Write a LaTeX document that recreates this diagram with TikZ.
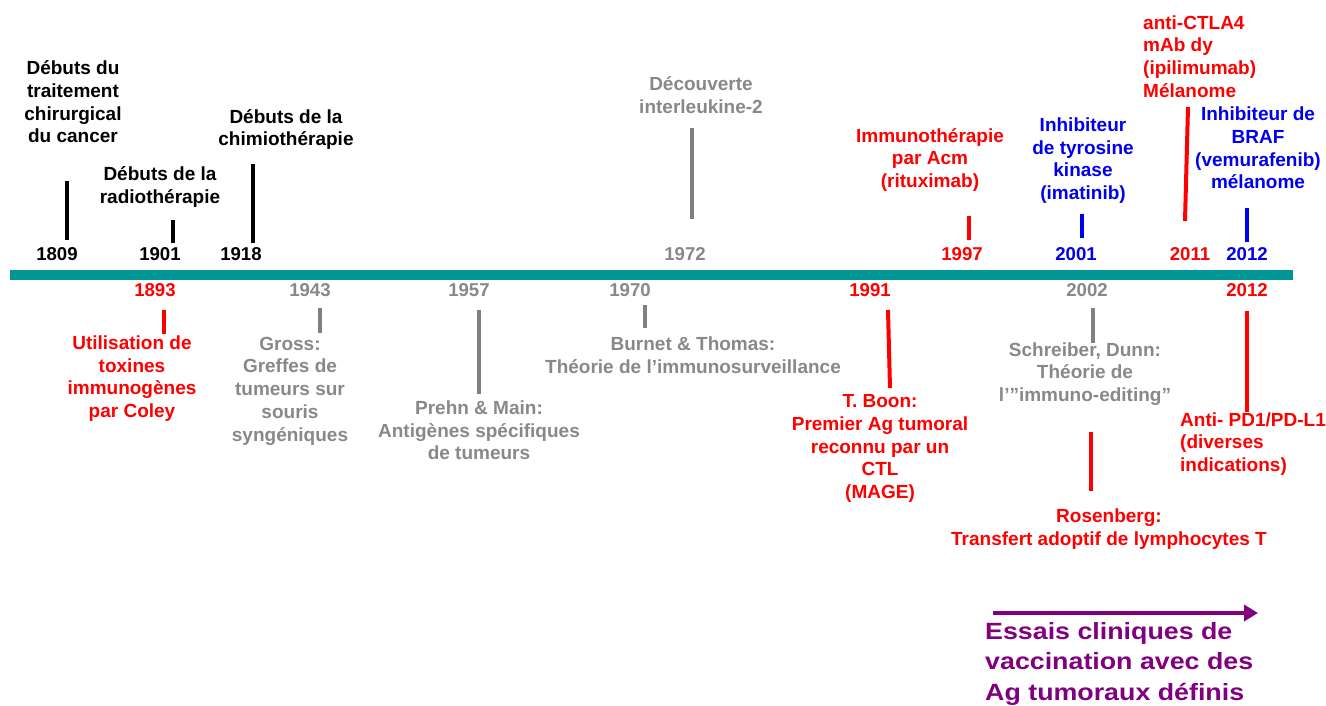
\documentclass[tikz,border=0pt]{standalone}
\usepackage{fontspec}
\setmainfont{Liberation Sans}
\newfontfamily\wideFont[FakeStretch=1.14]{Liberation Sans}
\usetikzlibrary{arrows.meta}
\definecolor{tealbar}{RGB}{0,150,150}
\definecolor{myred}{RGB}{255,0,0}
\definecolor{myblue}{RGB}{0,0,240}
\definecolor{mygray}{RGB}{128,128,128}
\definecolor{txtgray}{RGB}{136,136,136}
\definecolor{mypurple}{RGB}{128,0,128}
\begin{document}
\begin{tikzpicture}[x=1pt,y=-1pt,
  txt/.style={font=\bfseries\fontsize{19}{22.7}\selectfont, align=center, inner sep=0pt},
  yr/.style={font=\bfseries\fontsize{18.6}{20}\selectfont, inner sep=0pt},
  tk/.style={line width=4pt},
  blk/.style={black},
  rd/.style={myred},
  bl/.style={myblue},
  gy/.style={txtgray}]
\useasboundingbox (0,0) rectangle (1326,706);
% timeline bar
\fill[tealbar] (10,270) rectangle (1293,280);

% ---- above ----
\node[yr,blk] (y1809) at (57,254) {1809};
\draw[tk,black] (67,181) -- (67,240);
\node[txt,blk] (t1809) at (73,102) {Débuts du\\traitement\\chirurgical\\du cancer};

\node[yr,blk] (y1901) at (160,254) {1901};
\draw[tk,black] (173,220) -- (173,243);
\node[txt,blk] (t1901) at (160,187) {Débuts de la\\radiothérapie};

\node[yr,blk] (y1918) at (241,254) {1918};
\draw[tk,black] (253,164) -- (253,243);
\node[txt,blk] (t1918) at (286,129.5) {Débuts de la\\chimiothérapie};

\node[yr,gy] (y1972) at (685,254) {1972};
\draw[tk,mygray] (692,128) -- (692,219);
\node[txt,gy] (t1972) at (701,95) {Découverte\\interleukine-2};

\node[yr,rd] (y1997) at (962,254) {1997};
\draw[tk,myred] (969,216) -- (969,240);
\node[txt,rd] (t1997) at (930,160) {Immunothérapie\\par Acm\\(rituximab)};

\node[yr,bl] (y2001) at (1076,254) {2001};
\draw[tk,myblue] (1082,214) -- (1082,238);
\node[txt,bl] (t2001) at (1083,160.5) {Inhibiteur\\de tyrosine\\kinase\\(imatinib)};

\node[yr,rd] (y2011) at (1190,254) {2011};
\draw[tk,myred] (1188,107) -- (1185,221);
\node[txt,rd,align=left,anchor=west] (t2011) at (1143,56.5) {anti-CTLA4\\mAb dy\\(ipilimumab)\\Mélanome};

\node[yr,bl] (y2012a) at (1247,254) {2012};
\draw[tk,myblue] (1247,208) -- (1247,242);
\node[txt,bl] (t2012a) at (1258,148) {Inhibiteur de\\BRAF\\(vemurafenib)\\mélanome};

% ---- below ----
\node[yr,rd] (y1893) at (155,290) {1893};
\draw[tk,myred] (164,310) -- (164,334);
\node[txt,rd] (t1893) at (132,378.5) {Utilisation de\\toxines\\immunogènes\\par Coley};

\node[yr,gy] (y1943) at (310,290) {1943};
\draw[tk,mygray] (320,308) -- (320,333);
\node[txt,gy] (t1943) at (290,391) {Gross:\\Greffes de\\tumeurs sur\\souris\\syngéniques};

\node[yr,gy] (y1957) at (469,290) {1957};
\draw[tk,mygray] (479,310) -- (479,394);
\node[txt,gy] (t1957) at (479,430.5) {Prehn \& Main:\\Antigènes spécifiques\\de tumeurs};

\node[yr,gy] (y1970) at (630,290) {1970};
\draw[tk,mygray] (645,305) -- (645,328);
\node[txt,gy] (t1970) at (693,355.5) {Burnet \& Thomas:\\Théorie de l’immunosurveillance};

\node[yr,rd] (y1991) at (870,290) {1991};
\draw[tk,myred] (888,310) -- (890,388);
\node[txt,rd] (t1991) at (880,448.5) {T. Boon:\\Premier Ag tumoral\\reconnu par un\\CTL\\(MAGE)};

\node[yr,gy] (y2002) at (1087,290) {2002};
\draw[tk,mygray] (1093,308) -- (1093,343);
\node[txt,gy] (t2002) at (1085,374) {Schreiber, Dunn:\\Théorie de\\l’”immuno-editing”};

\draw[tk,myred] (1091,432) -- (1091,491);
\node[txt,rd] (tros) at (1109,529) {Rosenberg:\\Transfert adoptif de lymphocytes T};

\node[yr,rd] (y2012b) at (1247,290) {2012};
\draw[tk,myred] (1247,311) -- (1247,412);
\node[txt,rd,align=left,anchor=west] (t2012b) at (1180,444) {Anti- PD1/PD-L1\\(diverses\\indications)};

% ---- purple arrow ----
\coordinate (as) at (993,613);
\coordinate (ae) at (1258,613);
\draw[mypurple,line width=4.5pt,-{Triangle[length=14pt,width=16pt]}] (as) -- (ae);
\node[txt,align=left,anchor=west,text=mypurple,font=\wideFont\bfseries\fontsize{23.5}{30.5}\selectfont] (tess) at (985,663.5) {Essais cliniques de\\vaccination avec des\\Ag tumoraux définis};
\end{tikzpicture}
\end{document}
